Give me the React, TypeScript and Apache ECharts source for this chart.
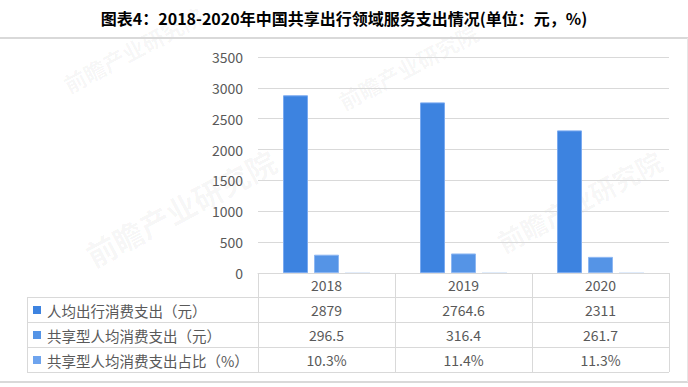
import React, { useEffect, useRef } from "react";
import * as echarts from "echarts";

const titleText = "图表4：2018-2020年中国共享出行领域服务支出情况(单位：元，%)";
const categories = ["2018", "2019", "2020"];
const seriesNames = ["人均出行消费支出（元）", "共享型人均消费支出（元）", "共享型人均消费支出占比（%）"];
const perCapitaTravel = [2879, 2764.6, 2311];
const sharedPerCapita = [296.5, 316.4, 261.7];
const sharedShare = [10.3, 11.4, 11.3];
const shareLabels = ["10.3%", "11.4%", "11.3%"];
const yMin = 0;
const yMax = 3500;
const yInterval = 500;

const colors = ["#3D83E0", "#5594E6", "#6EA4EE"];
const FONT = "'Noto Sans CJK SC', 'Microsoft YaHei', sans-serif";
const TEXT = "#595959";
const LINE = "#D9D9D9";

export default function App() {
  const ref = useRef<HTMLDivElement>(null);
  useEffect(() => {
    const chart = echarts.init(ref.current!, null, { renderer: "svg" });
    const gridLeft = 258;
    const gridRight = 19;
    const gridTop = 57;
    const gridBottom = 114;
    chart.setOption({
      animation: false,
      backgroundColor: "#ffffff",
      title: {
        text: titleText,
        left: "center",
        top: 5,
        textStyle: { fontFamily: FONT, fontSize: 16, fontWeight: "bold", color: "#000000" },
      },
      grid: { left: gridLeft, right: gridRight, top: gridTop, bottom: gridBottom, containLabel: false },
      xAxis: {
        type: "category",
        data: categories,
        boundaryGap: true,
        z: 5,
        axisLine: { show: true, lineStyle: { color: LINE, width: 1 } },
        axisTick: { show: true, length: 99, lineStyle: { color: LINE, width: 1 } },
        axisLabel: {
          fontFamily: FONT,
          fontSize: 14,
          color: TEXT,
          margin: 12,
          verticalAlign: "middle",
        },
      },
      yAxis: {
        type: "value",
        min: yMin,
        max: yMax,
        interval: yInterval,
        axisLine: { show: false },
        axisTick: { show: false },
        axisLabel: { fontFamily: FONT, fontSize: 14, color: TEXT, margin: 15, formatter: (v: number) => String(v) },
        splitLine: { lineStyle: { color: LINE, width: 1 } },
      },
      series: [
        {
          name: seriesNames[0],
          type: "bar",
          data: perCapitaTravel,
          barWidth: 25,
          barGap: "24%",
          itemStyle: { color: colors[0], borderColor: "#7AAAF0", borderWidth: 1 },
        },
        {
          name: seriesNames[1],
          type: "bar",
          data: sharedPerCapita,
          barWidth: 25,
          barGap: "24%",
          itemStyle: { color: colors[1], borderColor: "#8DB7F2", borderWidth: 1 },
        },
        {
          name: seriesNames[2],
          type: "bar",
          data: sharedShare,
          barWidth: 25,
          barGap: "24%",
          z: 1,
          itemStyle: { color: colors[2], opacity: 0.3 },
        },
      ],
    });

    const W = 688;
    const tableLeft = 27;
    const tableRight = W - gridRight;
    const headerBottom = 297;
    const rowH = 25;
    const centers = categories.map((c) => chart.convertToPixel({ xAxisIndex: 0 }, c) as number);
    const rows = [
      perCapitaTravel.map((v) => String(v)),
      sharedPerCapita.map((v) => String(v)),
      shareLabels,
    ];
    const graphics: any[] = [];
    // watermarks
    const marks = [
      { x: 70, y: 95, size: 22 },
      { x: 95, y: 270, size: 30 },
      { x: 345, y: 112, size: 22 },
      { x: 505, y: 255, size: 26 },
    ];
    marks.forEach((m) => {
      graphics.push({
        type: "text",
        x: m.x,
        y: m.y,
        rotation: (28 * Math.PI) / 180,
        silent: true,
        z: -1,
        style: {
          text: "前瞻产业研究院",
          font: `bold ${m.size}px ${FONT}`,
          fill: "rgba(0,0,0,0.045)",
          textVerticalAlign: "bottom",
        },
      });
    });
    // frame
    graphics.push({ type: "line", shape: { x1: 0, y1: 38, x2: W, y2: 38 }, style: { stroke: LINE, lineWidth: 2 } });
    graphics.push({ type: "line", shape: { x1: 0, y1: 382, x2: W, y2: 382 }, style: { stroke: LINE, lineWidth: 2 } });
    graphics.push({ type: "line", shape: { x1: 687.5, y1: 38, x2: 687.5, y2: 382 }, style: { stroke: "#E6E6E6", lineWidth: 1 } });
    // table lines
    for (let i = 0; i <= rows.length; i++) {
      const y = headerBottom + i * rowH + 0.5;
      graphics.push({ type: "line", shape: { x1: tableLeft, y1: y, x2: tableRight, y2: y }, style: { stroke: LINE, lineWidth: 1 } });
    }
    graphics.push({
      type: "line",
      shape: { x1: tableLeft + 0.5, y1: headerBottom, x2: tableLeft + 0.5, y2: headerBottom + rows.length * rowH },
      style: { stroke: LINE, lineWidth: 1 },
    });
    rows.forEach((row, r) => {
      const cy = headerBottom + r * rowH + rowH / 2 + 0.5;
      graphics.push({ type: "rect", shape: { x: 33, y: cy - 4, width: 8, height: 8 }, style: { fill: colors[r] } });
      graphics.push({
        type: "text",
        x: 47,
        y: cy,
        style: { text: seriesNames[r], font: `14.5px ${FONT}`, fill: TEXT, textVerticalAlign: "middle", textAlign: "left" },
      });
      row.forEach((v, i) => {
        graphics.push({
          type: "text",
          x: centers[i],
          y: cy,
          style: { text: v, font: `14px ${FONT}`, fill: TEXT, textVerticalAlign: "middle", textAlign: "center" },
        });
      });
    });
    chart.setOption({ graphic: graphics });
    return () => chart.dispose();
  }, []);
  return <div ref={ref} style={{ position: "fixed", left: 0, top: 0, width: 688, height: 387 }} />;
}
